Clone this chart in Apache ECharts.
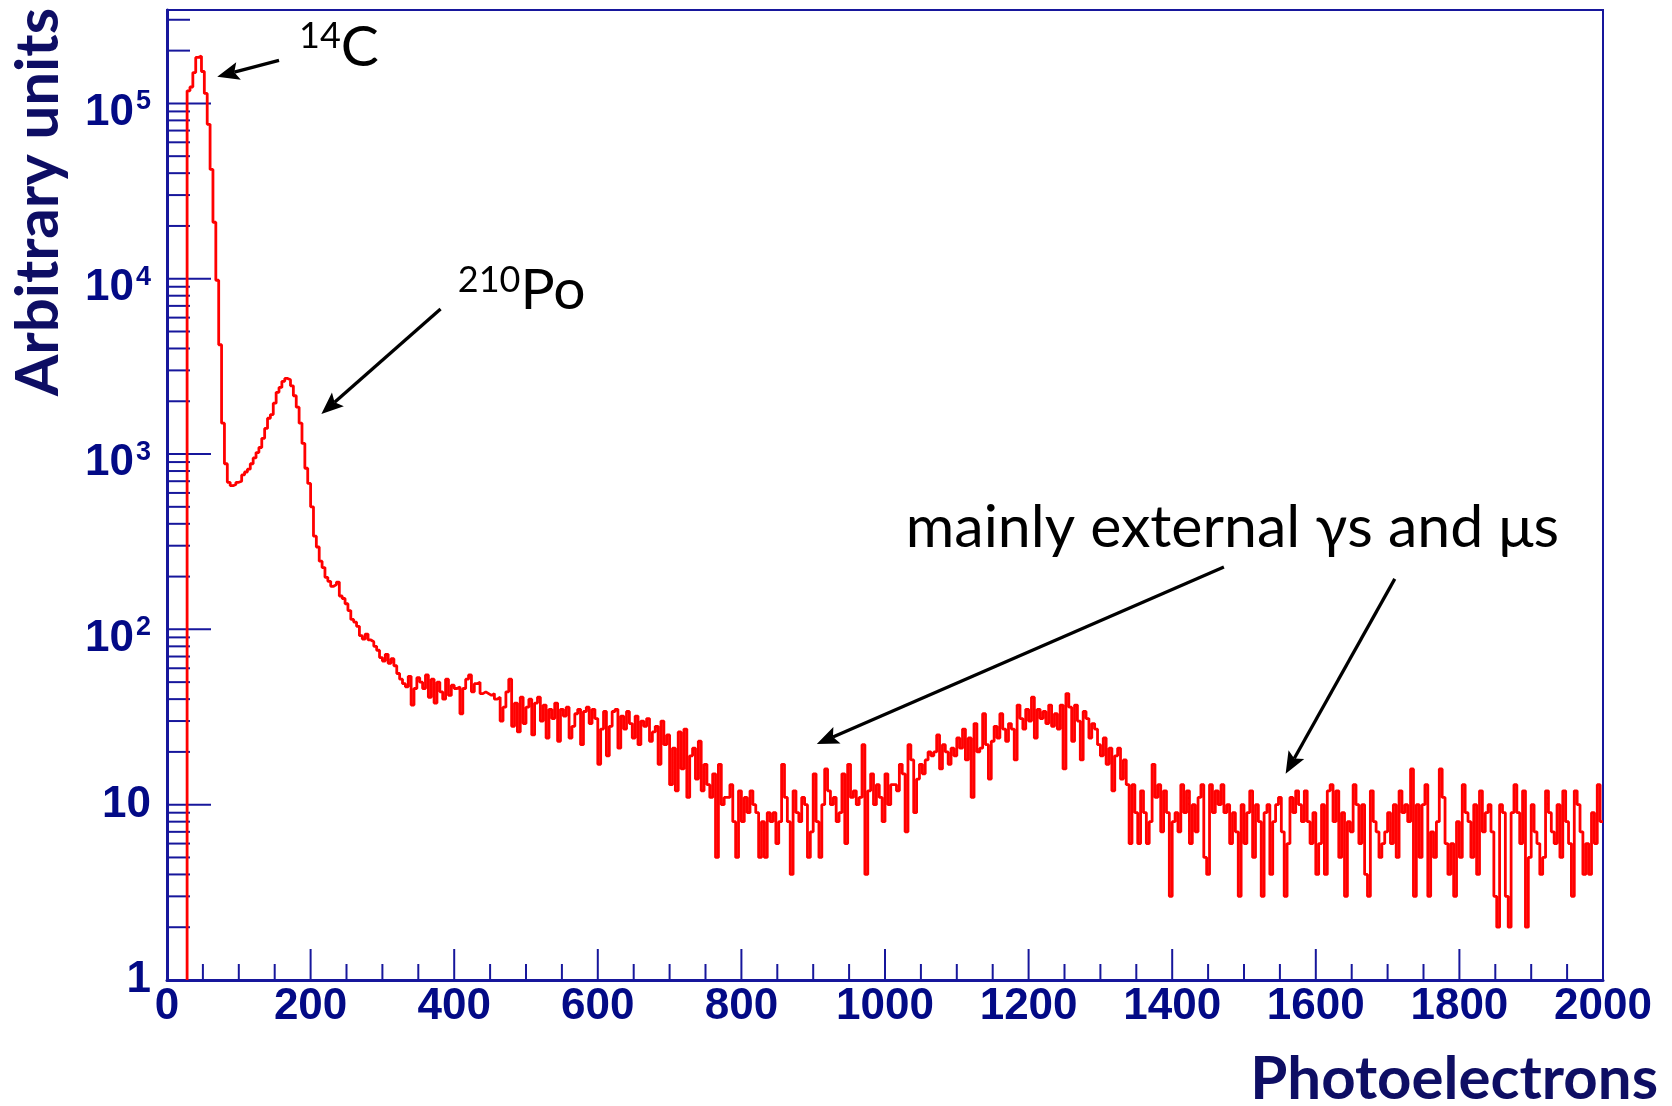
<!DOCTYPE html>
<html>
<head>
<meta charset="utf-8">
<script src="https://cdn.jsdelivr.net/npm/echarts@6/dist/echarts.min.js"></script>
<style>
  html, body { margin: 0; padding: 0; background: #ffffff; }
  #chart { width: 1672px; height: 1106px; }
</style>
</head>
<body>
<div id="chart"></div>
<script>
// Photoelectron spectrum: counts per 4-p.e. bin, split by spectral region.
const binWidth = 4;
const firstBin = 28;            // lower edge of the first non-empty bin
const yMin = 1;                 // log-axis floor; empty bins sit on it
const yMax = 341000;

// 14C peak, bins 28 .. 96
const carbonPeak = [118000, 124000, 150000, 183000, 186000, 152000, 114000, 76000, 42000,
  21000, 9800, 4200, 1500, 880, 690, 660, 670, 690];

// 210Po peak, bins 100 .. 248
const poloniumPeak = [700, 760, 790, 820, 880, 950, 1020, 1090, 1230, 1400,
  1600, 1680, 1950, 2250, 2400, 2600, 2700, 2650, 2450, 2150,
  1850, 1500, 1150, 830, 680, 500, 340, 295, 245, 225,
  198, 188, 176, 180, 186, 155, 150, 140];

// falling plateau, bins 252 .. 748
const plateau = [
  128, 114, 110, 104, 92, 88, 94, 87, 85, 80,
  76, 69, 66, 72, 64, 68, 62, 56, 52, 49,
  47, 54, 37, 46, 53, 50, 46, 55, 41, 52,
  38, 50, 44, 40, 52, 42, 48, 46, 47, 33,
  46, 52, 55, 44, 49, 50, 43, 44, 43, 42,
  43, 40, 41, 30, 36, 44, 52, 28, 38, 26,
  41, 29, 36, 40, 25, 38, 41, 30, 37, 24,
  35, 31, 38, 23, 35, 32, 36, 24, 28, 33,
  35, 22, 34, 36, 29, 35, 31, 17, 27, 34,
  19, 28, 34, 35, 21, 32, 27, 34, 29, 24,
  32, 22, 30, 28, 31, 23, 26, 28, 17, 30,
  22, 25, 13, 21, 12, 26, 16, 27, 11, 19,
  21, 14, 23, 12, 17];

// valley, bins 752 .. 1100
const valley = [
  13, 11, 15, 5, 17, 10, 11, 11, 13, 8,
  5, 12, 8, 11, 9, 12, 10, 9, 5, 8,
  5, 9, 8, 9, 6, 8, 17, 11, 8, 4,
  12, 9, 8, 11, 10, 5, 7, 15, 8, 5,
  10, 16, 12, 10, 11, 8, 9, 15, 6, 17,
  11, 12, 10, 11, 22, 4, 12, 15, 10, 13,
  11, 8, 15, 10, 13, 13, 12, 17, 15, 7,
  22, 18, 9, 14, 17, 15, 18, 20, 19, 20,
  25, 16, 22, 20, 17, 21, 19, 24];

// external-background bump, bins 1104 .. 1396
const bump = [
  21, 27, 18, 24, 11, 29, 20, 21, 33, 22,
  14, 23, 28, 24, 33, 27, 23, 29, 27, 18,
  37, 31, 27, 35, 30, 41, 24, 35, 31, 34,
  29, 37, 28, 33, 27, 37, 16, 43, 36, 23,
  37, 30, 18, 34, 31, 24, 29, 27, 22, 19,
  24, 17, 21, 12, 19, 21, 14, 18, 13, 6,
  13, 9, 6, 12, 9, 6, 8, 17, 11, 13,
  7, 12, 9, 3];

// high-energy tail, bins 1400 .. 1996
const tail = [
  8, 9, 7, 13, 9, 12, 6, 10, 7, 11,
  13, 5, 4, 13, 9, 12, 10, 13, 9, 10,
  6, 9, 7, 3, 10, 6, 9, 12, 5, 10,
  8, 3, 9, 10, 4, 8, 10, 11, 7, 3,
  6, 11, 9, 12, 10, 8, 12, 8, 6, 9,
  4, 6, 10, 4, 12, 13, 8, 12, 5, 9,
  3, 8, 7, 13, 10, 6, 10, 4, 3, 12,
  8, 7, 5, 6, 7, 9, 6, 10, 5, 12,
  9, 10, 8, 16, 3, 10, 5, 10, 13, 3,
  7, 5, 8, 16, 11, 6, 4, 6, 3, 8,
  5, 13, 9, 8, 5, 10, 4, 12, 7, 9,
  10, 7, 3, 2, 10, 9, 3, 2, 9, 13,
  9, 6, 12, 2, 5, 10, 7, 6, 4, 5,
  12, 9, 7, 6, 10, 5, 12, 8, 6, 3,
  12, 10, 7, 4, 6, 4, 9, 6, 13, 8];

// axis tick values
const xTickValues = [0, 200, 400, 600, 800, 1000, 1200, 1400, 1600, 1800, 2000];
const yTickValues = [1, 10, 100, 1000, 10000, 100000];

// ---------------------------------------------------------------------------
const axisBlue = '#17179c';
const labelNavy = '#030a86';
const titleNavy = '#0e0e64';
const curveRed = '#ff0000';
const tickFont = 'Liberation Sans';
const textFont = 'Lato';

const counts = carbonPeak.concat(poloniumPeak, plateau, valley, bump, tail);

// step outline: rise from the floor, one point per bin lower edge, close at the last upper edge
const histPoints = [[firstBin, yMin]];
counts.forEach((c, i) => histPoints.push([firstBin + i * binWidth, c]));
histPoints.push([firstBin + counts.length * binWidth, counts[counts.length - 1]]);

// minor ticks: 4 divisions per 200 p.e., 2..9 per decade
const xMinorTickValues = [];
for (let v = 50; v < 2000; v += 50) if (v % 200 !== 0) xMinorTickValues.push(v);
const yMinorTickValues = [];
for (let d = 1; d <= 100000; d *= 10) {
  for (let m = 2; m <= 9; m++) if (m * d <= yMax) yMinorTickValues.push(m * d);
}

// tick records: [x, y, length, vertical?]
const tickData = [];
yTickValues.forEach(v => tickData.push([0, v, 44, 0]));
yMinorTickValues.forEach(v => tickData.push([0, v, 23, 0]));
xTickValues.forEach(v => tickData.push([v, yMin, 31, 1]));
xMinorTickValues.forEach(v => tickData.push([v, yMin, 16, 1]));

function renderTick(params, api) {
  const p = api.coord([api.value(0), api.value(1)]);
  const len = api.value(2);
  const vertical = api.value(3) === 1;
  return {
    type: 'line',
    shape: vertical
      ? { x1: p[0], y1: p[1], x2: p[0], y2: p[1] - len }
      : { x1: p[0], y1: p[1], x2: p[0] + len, y2: p[1] },
    style: { stroke: axisBlue, lineWidth: 2 }
  };
}

function powerLabel(v) {
  const e = Math.round(Math.log10(v));
  if (e === 0) return '{n|1}';
  if (e === 1) return '{n|10}';
  return '{m|10}{s|' + e + '}';
}

const option = {
  animation: false,
  backgroundColor: '#ffffff',
  grid: {
    left: 167, right: 69, top: 10, bottom: 126,
    show: true, borderColor: axisBlue, borderWidth: 2,
    containLabel: false, outerBoundsMode: 'none'
  },
  xAxis: {
    type: 'value', min: 0, max: 2000, interval: 200,
    name: 'Photoelectrons', nameLocation: 'end', nameGap: 55, nameMoveOverlap: false,
    nameTextStyle: {
      fontFamily: textFont, fontWeight: 'bold', fontSize: 60, lineHeight: 60,
      color: titleNavy, align: 'right', verticalAlign: 'top', padding: [70, 0, 0, 0]
    },
    axisLine: { show: true, onZero: false, lineStyle: { color: axisBlue, width: 3 } },
    axisTick: { show: false },
    splitLine: { show: false },
    axisLabel: {
      margin: 5, fontFamily: tickFont, fontWeight: 'bold', fontSize: 44,
      color: labelNavy, formatter: v => String(v)
    }
  },
  yAxis: {
    type: 'log', logBase: 10, min: yMin, max: yMax,
    name: 'Arbitrary units', nameLocation: 'end', nameGap: 2, nameRotate: 90, nameMoveOverlap: false,
    nameTextStyle: {
      fontFamily: textFont, fontWeight: 'bold', fontSize: 60, lineHeight: 60,
      color: titleNavy, align: 'right', verticalAlign: 'bottom', padding: [0, 0, 98, 0]
    },
    axisLine: { show: true, lineStyle: { color: axisBlue, width: 3 } },
    axisTick: { show: false },
    minorTick: { show: false },
    splitLine: { show: false },
    axisLabel: {
      margin: 16, showMaxLabel: false, color: labelNavy,
      formatter: powerLabel,
      rich: {
        n: { fontFamily: tickFont, fontWeight: 'bold', fontSize: 44, lineHeight: 44, color: labelNavy },
        m: { fontFamily: tickFont, fontWeight: 'bold', fontSize: 44, lineHeight: 44, color: labelNavy,
             padding: [18, 0, 0, 0] },
        s: { fontFamily: tickFont, fontWeight: 'bold', fontSize: 27, lineHeight: 27, color: labelNavy,
             verticalAlign: 'top', padding: [7, 0, 0, 2] }
      }
    }
  },
  series: [
    {
      type: 'custom', name: 'ticks', silent: true, clip: false,
      renderItem: renderTick, data: tickData, z: 2
    },
    {
      type: 'line', name: 'spectrum', data: histPoints, step: 'end',
      symbol: 'none', showSymbol: false, silent: true, clip: true,
      lineStyle: { color: curveRed, width: 2.8 }, z: 3
    }
  ]
};

const chart = echarts.init(document.getElementById('chart'), null, { renderer: 'canvas' });
chart.setOption(option);

// annotations anchored in data coordinates
const notes = {
  arrows: [
    { from: [156, 176000], to: [70, 142000] },
    { from: [381, 6710], to: [215, 1694] },
    { from: [1472, 227], to: [905, 22.2] },
    { from: [1710, 194], to: [1558, 15.0] }
  ],
  labels: [
    { at: [184, 209000], text: '{s|14}{b|C}', size: 57 },
    { at: [405, 8510], text: '{s|210}{b|Po}', size: 57 },
    { at: [1029, 379], text: '{b|mainly external γs and μs}', size: 59 }
  ]
};

const toPx = p => chart.convertToPixel({ gridIndex: 0 }, p);
const graphics = [];
notes.arrows.forEach(a => {
  const t = toPx(a.from), h = toPx(a.to);
  const dx = h[0] - t[0], dy = h[1] - t[1];
  const L = Math.hypot(dx, dy);
  const ux = dx / L, uy = dy / L, nx = -uy, ny = ux;
  const headLen = 22, halfW = 9;
  const bx = h[0] - ux * headLen, by = h[1] - uy * headLen;
  const kx = h[0] - ux * headLen * 0.8, ky = h[1] - uy * headLen * 0.8;
  graphics.push({
    type: 'line', silent: true, z: 100,
    shape: { x1: t[0], y1: t[1], x2: kx, y2: ky },
    style: { stroke: '#000000', lineWidth: 3.3 }
  });
  graphics.push({
    type: 'polygon', silent: true, z: 100,
    shape: { points: [[h[0], h[1]], [bx + nx * halfW, by + ny * halfW], [kx, ky], [bx - nx * halfW, by - ny * halfW]] },
    style: { fill: '#000000' }
  });
});
notes.labels.forEach(l => {
  const p = toPx(l.at);
  graphics.push({
    type: 'text', silent: true, z: 100, x: p[0], y: p[1],
    style: {
      text: l.text, align: 'left', verticalAlign: 'middle', fill: '#000000',
      rich: {
        b: { fontFamily: textFont, fontSize: l.size, lineHeight: l.size, fill: '#000000' },
        s: { fontFamily: textFont, fontSize: 36, lineHeight: 36, fill: '#000000', verticalAlign: 'top' }
      }
    }
  });
});
chart.setOption({ graphic: graphics });
</script>
</body>
</html>
